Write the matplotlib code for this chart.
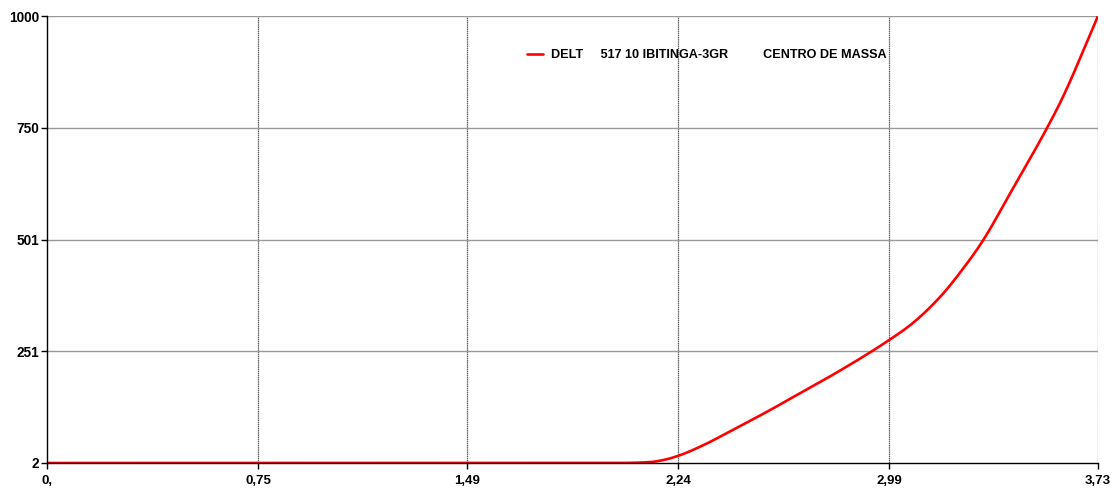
import matplotlib
matplotlib.use("Agg")
import numpy as np
import matplotlib.pyplot as plt

plt.rcParams['font.family'] = ['Liberation Sans', 'DejaVu Sans']

# Cumulative curve of the sample (x in the axis units, y cumulative value)
x_vals = [0.0, 0.75, 1.49, 1.95, 2.05, 2.14, 2.19, 2.24, 2.33, 2.44, 2.56,
          2.67, 2.80, 2.99, 3.07, 3.17, 3.25, 3.32, 3.42,
          3.55, 3.60, 3.73]
y_vals = [2, 2, 2, 2, 2.2, 4, 9, 18, 42, 78, 118,
          157, 203, 277, 313, 373, 435, 497, 606,
          751, 812, 1000]

x_ticks = [0.0, 0.75, 1.49, 2.24, 2.99, 3.73]
x_tick_labels = ["0,", "0,75", "1,49", "2,24", "2,99", "3,73"]
y_ticks = [2, 251, 501, 750, 1000]
y_tick_labels = ["2", "251", "501", "750", "1000"]

series_label = "DELT     517 10 IBITINGA-3GR          CENTRO DE MASSA"


def smooth_line(xs, ys, per_seg=20):
    """Monotone cubic (Fritsch-Carlson) path through the points, for a smooth stroke."""
    xs = np.asarray(xs, float)
    ys = np.asarray(ys, float)
    h = np.diff(xs)
    d = np.diff(ys) / h
    m = np.zeros_like(ys)
    m[0], m[-1] = d[0], d[-1]
    for i in range(1, len(xs) - 1):
        if d[i - 1] * d[i] <= 0:
            m[i] = 0.0
        else:
            w1 = 2 * h[i] + h[i - 1]
            w2 = h[i] + 2 * h[i - 1]
            m[i] = (w1 + w2) / (w1 / d[i - 1] + w2 / d[i])
    px, py = [], []
    for i in range(len(xs) - 1):
        t = np.linspace(0, 1, per_seg, endpoint=False)
        h00 = 2 * t**3 - 3 * t**2 + 1
        h10 = t**3 - 2 * t**2 + t
        h01 = -2 * t**3 + 3 * t**2
        h11 = t**3 - t**2
        px.append(xs[i] + t * h[i])
        py.append(h00 * ys[i] + h10 * h[i] * m[i] + h01 * ys[i + 1] + h11 * h[i] * m[i + 1])
    px.append([xs[-1]])
    py.append([ys[-1]])
    return np.concatenate(px), np.concatenate(py)


fig = plt.figure(figsize=(11.19, 4.91), dpi=100)
ax = fig.add_axes([47 / 1119, 28 / 491, 1051 / 1119, 447 / 491])

ax.set_xlim(0, 3.73)
ax.set_ylim(2, 1000)

# grid lines
for xv in x_ticks[1:]:
    ax.axvline(xv, color='#5a5a5a', lw=0.9, linestyle=(0, (1.2, 0.5)), zorder=1)
for yv in y_ticks[1:]:
    ax.axhline(yv, color='#9a9a9a', lw=1.0, zorder=1)

sx, sy = smooth_line(x_vals, y_vals)
ax.plot(sx, sy, color='#ff0000', lw=1.9, label=series_label, zorder=3,
        solid_joinstyle='round', solid_capstyle='round')

for side in ('top', 'right'):
    ax.spines[side].set_visible(False)
for side in ('left', 'bottom'):
    ax.spines[side].set_color('black')
    ax.spines[side].set_linewidth(1.0)
    ax.spines[side].set_zorder(4)

ax.set_xticks(x_ticks)
ax.set_xticklabels(x_tick_labels, fontsize=9.5, fontweight='bold')
ax.set_yticks(y_ticks)
ax.set_yticklabels(y_tick_labels, fontsize=9.8, fontweight='bold')
ax.tick_params(axis='both', direction='out', length=4, width=1, color='black')
ax.tick_params(axis='x', pad=4.5)
ax.tick_params(axis='y', pad=1.8)

leg = ax.legend(loc='upper left', bbox_to_anchor=(475 / 1051, 1 - 28 / 447),
                frameon=False, handlelength=1.3, handletextpad=0.6,
                borderaxespad=0, prop={'weight': 'bold', 'size': 9.1})

fig.savefig("out.png", dpi=100, facecolor='white')
